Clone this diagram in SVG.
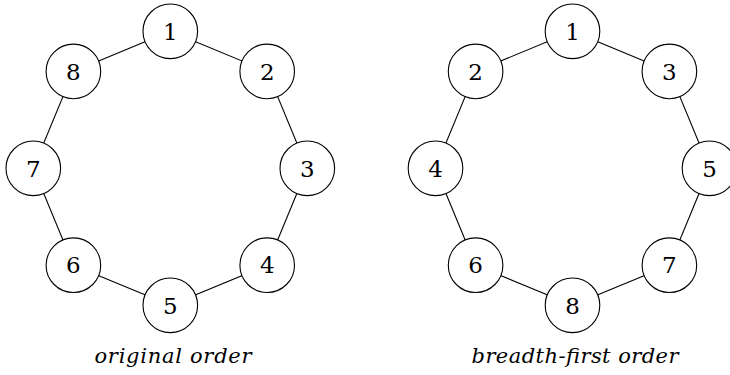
<svg xmlns="http://www.w3.org/2000/svg" width="730" height="375" viewBox="0 0 730 375">
<style>
.node circle{fill:#fff;stroke:#000;stroke-width:1.1}
.node text{font-family:"DejaVu Serif","Liberation Serif",serif;font-size:23px;text-anchor:middle;fill:#000}
.edges line{stroke:#000;stroke-width:1.1}
.cap{font-family:"DejaVu Serif","Liberation Serif",serif;font-style:italic;font-size:21px;text-anchor:middle;fill:#000}
</style>
<rect width="730" height="375" fill="#fff"/>
<g class="edges">
<line x1="170.3" y1="31.3" x2="267.2" y2="71.4"/>
<line x1="267.2" y1="71.4" x2="307.3" y2="168.3"/>
<line x1="307.3" y1="168.3" x2="267.2" y2="265.2"/>
<line x1="267.2" y1="265.2" x2="170.3" y2="305.3"/>
<line x1="170.3" y1="305.3" x2="73.4" y2="265.2"/>
<line x1="73.4" y1="265.2" x2="33.3" y2="168.3"/>
<line x1="33.3" y1="168.3" x2="73.4" y2="71.4"/>
<line x1="73.4" y1="71.4" x2="170.3" y2="31.3"/>
<line x1="572.5" y1="31.3" x2="669.4" y2="71.4"/>
<line x1="669.4" y1="71.4" x2="709.5" y2="168.3"/>
<line x1="709.5" y1="168.3" x2="669.4" y2="265.2"/>
<line x1="669.4" y1="265.2" x2="572.5" y2="305.3"/>
<line x1="572.5" y1="305.3" x2="475.6" y2="265.2"/>
<line x1="475.6" y1="265.2" x2="435.5" y2="168.3"/>
<line x1="435.5" y1="168.3" x2="475.6" y2="71.4"/>
<line x1="475.6" y1="71.4" x2="572.5" y2="31.3"/>
</g>
<g id="a1" class="node"><circle cx="170.3" cy="31.3" r="27.3"/><text x="170.3" y="39.5">1</text></g>
<g id="a2" class="node"><circle cx="267.2" cy="71.4" r="27.3"/><text x="267.2" y="79.6">2</text></g>
<g id="a3" class="node"><circle cx="307.3" cy="168.3" r="27.3"/><text x="307.3" y="176.5">3</text></g>
<g id="a4" class="node"><circle cx="267.2" cy="265.2" r="27.3"/><text x="267.2" y="273.4">4</text></g>
<g id="a5" class="node"><circle cx="170.3" cy="305.3" r="27.3"/><text x="170.3" y="313.5">5</text></g>
<g id="a6" class="node"><circle cx="73.4" cy="265.2" r="27.3"/><text x="73.4" y="273.4">6</text></g>
<g id="a7" class="node"><circle cx="33.3" cy="168.3" r="27.3"/><text x="33.3" y="176.5">7</text></g>
<g id="a8" class="node"><circle cx="73.4" cy="71.4" r="27.3"/><text x="73.4" y="79.6">8</text></g>
<g id="b1" class="node"><circle cx="572.5" cy="31.3" r="27.3"/><text x="572.5" y="39.5">1</text></g>
<g id="b3" class="node"><circle cx="669.4" cy="71.4" r="27.3"/><text x="669.4" y="79.6">3</text></g>
<g id="b5" class="node"><circle cx="709.5" cy="168.3" r="27.3"/><text x="709.5" y="176.5">5</text></g>
<g id="b7" class="node"><circle cx="669.4" cy="265.2" r="27.3"/><text x="669.4" y="273.4">7</text></g>
<g id="b8" class="node"><circle cx="572.5" cy="305.3" r="27.3"/><text x="572.5" y="313.5">8</text></g>
<g id="b6" class="node"><circle cx="475.6" cy="265.2" r="27.3"/><text x="475.6" y="273.4">6</text></g>
<g id="b4" class="node"><circle cx="435.5" cy="168.3" r="27.3"/><text x="435.5" y="176.5">4</text></g>
<g id="b2" class="node"><circle cx="475.6" cy="71.4" r="27.3"/><text x="475.6" y="79.6">2</text></g>
<text class="cap" x="173" y="363" textLength="157" lengthAdjust="spacing">original order</text>
<text class="cap" x="575" y="363" textLength="207" lengthAdjust="spacing">breadth-first order</text>
</svg>
